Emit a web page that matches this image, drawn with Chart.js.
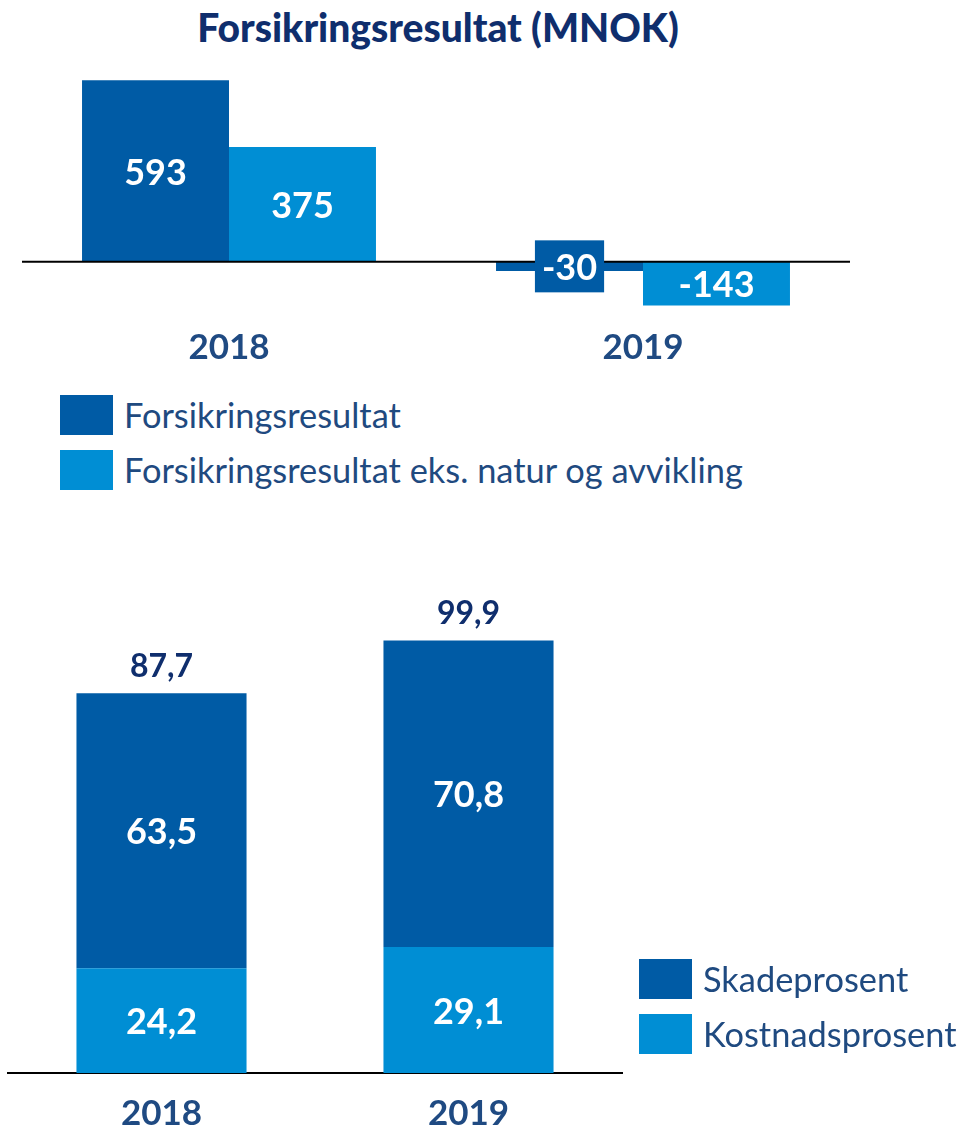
<!DOCTYPE html>
<html>
<head>
<meta charset="utf-8">
<script src="https://cdn.jsdelivr.net/npm/chart.js@4.4.1/dist/chart.umd.min.js"></script>
<style>
  html, body { margin:0; padding:0; background:#fff; }
  body { width:960px; height:1131px; position:relative; overflow:hidden; font-family: Lato, "Noto Sans", sans-serif; }
  #title { position:absolute; left:0; top:4px; width:876px; text-align:center; font-weight:900; font-size:39px; line-height:46px; color:#0F2E6D; }
  canvas { position:absolute; left:0; }
  #c1 { top:0; }
  #c2 { top:560px; }
  .legend { position:absolute; }
  .item { position:absolute; left:0; white-space:nowrap; }
  .sw { position:absolute; left:0; width:53px; height:40px; }
  .lt { position:absolute; font-size:34.4px; line-height:40px; color:#1F4A80; }
</style>
</head>
<body>
<div id="title">Forsikringsresultat (MNOK)</div>
<canvas id="c1" width="960" height="380"></canvas>
<canvas id="c2" width="960" height="571"></canvas>
<div class="legend" id="leg1" style="left:60px; top:395px;"></div>
<div class="legend" id="leg2" style="left:639px; top:959px;"></div>
<script>
// ---- data ----
const years = ['2018', '2019'];
const resultSeries = ['Forsikringsresultat', 'Forsikringsresultat eks. natur og avvikling'];
const forsikringsresultat = [593, -30];
const forsikringsresultatEks = [375, -143];

const ratioSeries = ['Skadeprosent', 'Kostnadsprosent'];
const skadeprosent = [63.5, 70.8];
const kostnadsprosent = [24.2, 29.1];
const kombinert = [87.7, 99.9];

// ---- styles ----
const DARK = '#005BA5';
const LIGHT = '#008ED4';
const AXIS_TXT = '#1F4A82';
const NAVY = '#0F2E6D';

const valueLabels = {
  id: 'valueLabels',
  afterDatasetsDraw(chart, args, opts) {
    const ctx = chart.ctx;
    ctx.save();
    if (opts.zeroLine) {
      const y0 = chart.scales.y.getPixelForValue(0);
      ctx.strokeStyle = '#000';
      ctx.lineWidth = 2;
      ctx.beginPath();
      ctx.moveTo(chart.chartArea.left, y0);
      ctx.lineTo(chart.chartArea.right, y0);
      ctx.stroke();
    }
    ctx.textAlign = 'center';
    ctx.textBaseline = 'middle';
    ctx.font = opts.font;
    chart.data.datasets.forEach((ds, i) => {
      const meta = chart.getDatasetMeta(i);
      meta.data.forEach((bar, j) => {
        const txt = opts.format(ds.data[j]);
        const cy = (bar.y + bar.base) / 2;
        const h = Math.abs(bar.base - bar.y);
        if (h < opts.minFit) {
          const w = ctx.measureText(txt).width + 2 * opts.boxPadX;
          ctx.fillStyle = ds.backgroundColor;
          ctx.fillRect(bar.x - w / 2, cy - opts.boxHeight / 2, w, opts.boxHeight);
        }
        ctx.fillStyle = '#fff';
        ctx.fillText(txt, bar.x, cy + opts.dy);
      });
    });
    if (opts.totals) {
      const last = chart.getDatasetMeta(chart.data.datasets.length - 1);
      ctx.font = opts.totalFont;
      ctx.fillStyle = NAVY;
      last.data.forEach((bar, j) => {
        ctx.fillText(opts.format(opts.totals[j]), bar.x, bar.y - opts.totalOffset);
      });
    }
    ctx.restore();
  }
};

Chart.defaults.font.family = 'Lato, "Noto Sans", sans-serif';

new Chart(document.getElementById('c1'), {
  type: 'bar',
  data: {
    labels: years,
    datasets: [
      { label: resultSeries[0], data: forsikringsresultat, backgroundColor: DARK },
      { label: resultSeries[1], data: forsikringsresultatEks, backgroundColor: LIGHT }
    ]
  },
  options: {
    responsive: false,
    animation: false,
    layout: { padding: { left: 22, right: 110, top: 78, bottom: 0 } },
    categoryPercentage: 0.71,
    barPercentage: 1,
    plugins: {
      legend: { display: false },
      tooltip: { enabled: false },
      valueLabels: {
        zeroLine: true,
        font: 'bold 36px Lato',
        format: v => String(v),
        minFit: 30,
        boxHeight: 52,
        boxPadX: 7,
        dy: 2
      }
    },
    scales: {
      x: {
        grid: { display: false, drawTicks: false },
        border: { display: false },
        ticks: { color: AXIS_TXT, font: { size: 35, weight: 'bold' }, padding: 4 },
        afterFit: s => { s.height = 57; }
      },
      y: { display: false, min: -200, max: 600 }
    }
  },
  plugins: [valueLabels]
});

new Chart(document.getElementById('c2'), {
  type: 'bar',
  data: {
    labels: years,
    datasets: [
      { label: ratioSeries[1], data: kostnadsprosent, backgroundColor: LIGHT },
      { label: ratioSeries[0], data: skadeprosent, backgroundColor: DARK }
    ]
  },
  options: {
    responsive: false,
    animation: false,
    layout: { padding: { left: 8, right: 338, top: 80, bottom: 0 } },
    categoryPercentage: 1,
    barPercentage: 0.554,
    plugins: {
      legend: { display: false },
      tooltip: { enabled: false },
      valueLabels: {
        zeroLine: false,
        font: 'bold 36px Lato',
        format: v => v.toFixed(1).replace('.', ','),
        minFit: 0,
        boxHeight: 0,
        boxPadX: 0,
        dy: 2,
        totals: kombinert,
        totalFont: 'bold 32px Lato',
        totalOffset: 27
      }
    },
    scales: {
      x: {
        stacked: true,
        grid: { display: false, drawTicks: false },
        border: { display: true, color: '#000', width: 2 },
        ticks: { color: AXIS_TXT, font: { size: 35, weight: 'bold' }, padding: 20 },
        afterFit: s => { s.height = 58; }
      },
      y: { display: false, stacked: true, min: 0, max: 100 }
    }
  },
  plugins: [valueLabels]
});

// ---- legends ----
function buildLegend(el, names, colors) {
  names.forEach((n, i) => {
    const it = document.createElement('div');
    it.className = 'item';
    it.style.top = (i * 55) + 'px';
    const sw = document.createElement('div');
    sw.className = 'sw';
    sw.style.background = colors[i];
    const t = document.createElement('div');
    t.className = 'lt';
    t.style.left = '64px';
    t.textContent = n;
    it.appendChild(sw);
    it.appendChild(t);
    el.appendChild(it);
  });
}
buildLegend(document.getElementById('leg1'), resultSeries, [DARK, LIGHT]);
buildLegend(document.getElementById('leg2'), ratioSeries, [DARK, LIGHT]);
</script>
</body>
</html>
